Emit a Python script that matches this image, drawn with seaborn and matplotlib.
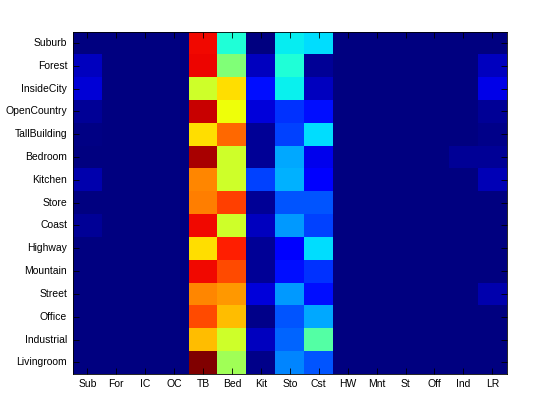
import numpy as np
import pandas as pd
import matplotlib
matplotlib.use("Agg")
import matplotlib.pyplot as plt
import seaborn as sns

rows = ['Suburb', 'Forest', 'InsideCity', 'OpenCountry', 'TallBuilding', 'Bedroom',
        'Kitchen', 'Store', 'Coast', 'Highway', 'Mountain', 'Street', 'Office',
        'Industrial', 'Livingroom']
cols = ['Sub', 'For', 'IC', 'OC', 'TB', 'Bed', 'Kit', 'Sto', 'Cst', 'HW', 'Mnt',
        'St', 'Off', 'Ind', 'LR']

# one list per row, columns in order of cols
suburb       = [0.0,   0, 0, 0, 0.900, 0.390, 0.00,  0.357, 0.340, 0, 0, 0, 0, 0,    0.0]
forest       = [0.055, 0, 0, 0, 0.905, 0.505, 0.055, 0.390, 0.020, 0, 0, 0, 0, 0,    0.055]
insidecity   = [0.077, 0, 0, 0, 0.600, 0.675, 0.140, 0.360, 0.055, 0, 0, 0, 0, 0,    0.090]
opencountry  = [0.020, 0, 0, 0, 0.934, 0.640, 0.080, 0.175, 0.140, 0, 0, 0, 0, 0,    0.020]
tallbuilding = [0.005, 0, 0, 0, 0.675, 0.797, 0.020, 0.190, 0.340, 0, 0, 0, 0, 0,    0.010]
bedroom      = [0.0,   0, 0, 0, 0.963, 0.600, 0.020, 0.290, 0.095, 0, 0, 0, 0, 0.02, 0.020]
kitchen      = [0.040, 0, 0, 0, 0.767, 0.600, 0.190, 0.300, 0.120, 0, 0, 0, 0, 0,    0.050]
store        = [0.0,   0, 0, 0, 0.775, 0.840, 0.020, 0.210, 0.210, 0, 0, 0, 0, 0,    0.0]
coast        = [0.020, 0, 0, 0, 0.900, 0.600, 0.055, 0.275, 0.190, 0, 0, 0, 0, 0,    0.0]
highway      = [0.0,   0, 0, 0, 0.675, 0.875, 0.020, 0.120, 0.340, 0, 0, 0, 0, 0,    0.0]
mountain     = [0.0,   0, 0, 0, 0.900, 0.830, 0.020, 0.140, 0.175, 0, 0, 0, 0, 0,    0.0]
street       = [0.0,   0, 0, 0, 0.767, 0.748, 0.080, 0.275, 0.140, 0, 0, 0, 0, 0,    0.040]
office       = [0.0,   0, 0, 0, 0.830, 0.708, 0.010, 0.210, 0.290, 0, 0, 0, 0, 0,    0.0]
industrial   = [0.0,   0, 0, 0, 0.710, 0.600, 0.055, 0.225, 0.450, 0, 0, 0, 0, 0,    0.0]
livingroom   = [0.0,   0, 0, 0, 1.000, 0.545, 0.010, 0.255, 0.210, 0, 0, 0, 0, 0,    0.0]

conf = pd.DataFrame([suburb, forest, insidecity, opencountry, tallbuilding, bedroom,
                     kitchen, store, coast, highway, mountain, street, office,
                     industrial, livingroom], index=rows, columns=cols)

plt.rcParams['font.family'] = ['Liberation Sans', 'DejaVu Sans']

fig = plt.figure(figsize=(5.6, 4.2), dpi=100)
ax = fig.add_axes([0.13, 0.11, 0.775, 0.815])
sns.heatmap(conf, cmap='jet', vmin=0, vmax=1, cbar=False, ax=ax)

for s in ax.spines.values():
    s.set_visible(True)
    s.set_linewidth(0.6)
    s.set_color('black')
ax.tick_params(direction='in', length=4, width=0.6, top=True, right=True,
               labelsize=7.5, pad=4)
ax.set_xticklabels(cols, rotation=0)
ax.set_yticklabels(rows, rotation=0)
ax.set_xlabel('')
ax.set_ylabel('')

fig.savefig('out.png', dpi=100)
